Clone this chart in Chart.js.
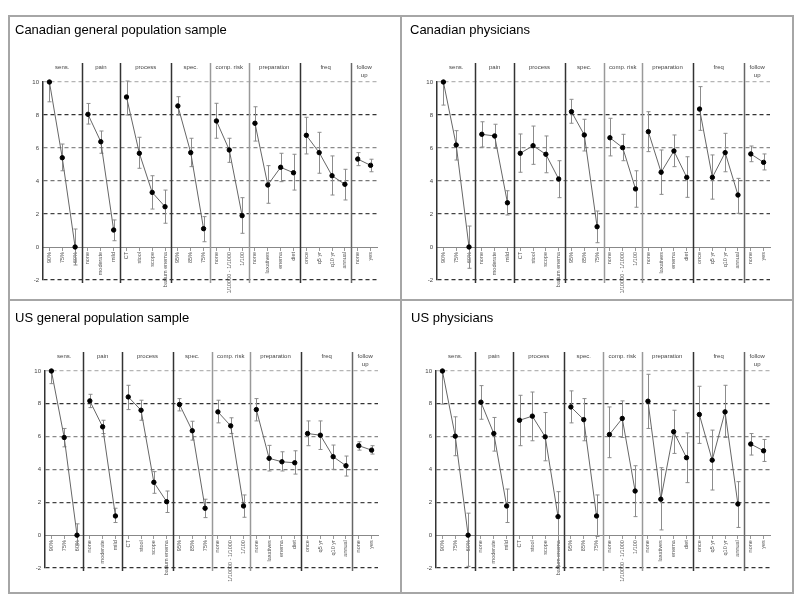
<!DOCTYPE html>
<html>
<head>
<meta charset="utf-8">
<script src="https://cdn.jsdelivr.net/npm/chart.js@4.4.0/dist/chart.umd.min.js"></script>
<style>
  body { margin: 0; background: #fff; }
  #wrap { position: relative; width: 800px; height: 602px; overflow: hidden; }
  #wrap canvas { position: absolute; }
  .rule { position: absolute; background: #a6a6a6; }
</style>
</head>
<body>
<div id="wrap">
  <div class="rule" style="left:8px;top:15px;width:786px;height:2px"></div>
  <div class="rule" style="left:8px;top:592px;width:786px;height:2px"></div>
  <div class="rule" style="left:8px;top:15px;width:2px;height:579px"></div>
  <div class="rule" style="left:792px;top:15px;width:2px;height:579px"></div>
  <div class="rule" style="left:400px;top:15px;width:2px;height:579px"></div>
  <div class="rule" style="left:8px;top:299px;width:786px;height:2px"></div>
</div>

<script>
// attribute levels, in plotting order
const levels = ['90%', '75%', '60%',
  'none', 'moderate', 'mild',
  'CT', 'stool', 'scope', 'barium enema',
  '95%', '85%', '75%',
  'none', '1/10000 - 1/1000', '1/100',
  'none', 'laxatives', 'enema', 'diet',
  'once', 'q5 yr', 'q10 yr', 'annual',
  'none', 'yes'];
const groups = ['sens.', 'pain', 'process', 'spec.', 'comp. risk', 'preparation', 'freq', 'follow\nup'];
const groupSizes = [3, 3, 4, 3, 3, 4, 4, 2];
const yTicks = [-2, 0, 2, 4, 6, 8, 10];

const panelTitles = ['Canadian general population sample', 'Canadian physicians',
  'US general population sample', 'US physicians'];

// utility scores (points) and error bar ends
const canGen   = [10.0, 5.41, 0.0,  8.04, 6.38, 1.03,  9.09, 5.68, 3.31, 2.44,  8.55, 5.72, 1.11,  7.64, 5.88, 1.9,  7.5, 3.76, 4.83, 4.5,  6.77, 5.72, 4.32, 3.8,  5.33, 4.95];
const canGenLo = [8.8, 4.62, -1.09,  7.45, 5.68, 0.38,  8.0, 4.77, 2.3, 1.44,  8.0, 4.87, 0.32,  6.59, 5.13, 0.83,  6.42, 2.65, 3.96, 3.45,  5.64, 4.47, 3.15, 2.85,  4.93, 4.56];
const canGenHi = [10.0, 6.24, 1.09,  8.7, 7.03, 1.64,  10.06, 6.65, 4.32, 3.45,  9.11, 6.59, 1.84,  8.71, 6.59, 2.99,  8.5, 4.93, 5.68, 5.62,  7.86, 6.95, 5.52, 4.71,  5.72, 5.32];

const canPhys   = [10.0, 6.18, 0.0,  6.83, 6.73, 2.68,  5.68, 6.14, 5.62, 4.12,  8.2, 6.79, 1.23,  6.62, 6.02, 3.52,  6.99, 4.53, 5.82, 4.22,  8.36, 4.22, 5.72, 3.15,  5.64, 5.13];
const canPhysLo = [8.6, 5.27, -1.29,  6.06, 5.98, 1.94,  4.53, 5.01, 4.5, 2.99,  7.5, 5.82, 0.26,  5.52, 5.23, 2.41,  5.78, 3.19, 4.87, 3.01,  7.07, 2.9, 4.56, 2.04,  5.17, 4.67];
const canPhysHi = [10.0, 7.05, 1.27,  7.59, 7.44, 3.41,  6.85, 7.33, 6.73, 5.23,  8.95, 7.74, 2.18,  7.8, 6.83, 4.62,  8.2, 5.88, 6.79, 5.47,  9.72, 5.58, 6.89, 4.16,  6.12, 5.64];

const usGen   = [10.0, 5.95, 0.0,  8.18, 6.6, 1.17,  8.42, 7.61, 3.22, 2.04,  7.96, 6.36, 1.64,  7.51, 6.66, 1.78,  7.65, 4.68, 4.47, 4.41,  6.19, 6.09, 4.78, 4.23,  5.45, 5.18];
const usGenLo = [9.23, 5.38, -0.6,  7.77, 6.19, 0.77,  7.65, 7.0, 2.55, 1.38,  7.57, 5.79, 1.07,  6.84, 6.19, 1.09,  6.96, 3.91, 3.91, 3.72,  5.45, 5.22, 4.01, 3.6,  5.18, 4.94];
const usGenHi = [10.0, 6.5, 0.69,  8.58, 7.0, 1.64,  9.13, 8.22, 3.87, 2.69,  8.32, 6.94, 2.19,  8.22, 7.15, 2.45,  8.32, 5.47, 5.08, 5.14,  6.96, 6.96, 5.49, 4.82,  5.69, 5.45];

const usPhys   = [10.0, 6.03, 0.0,  8.1, 6.19, 1.78,  7.0, 7.25, 5.99, 1.13,  7.81, 7.04, 1.17,  6.13, 7.11, 2.69,  8.16, 2.19, 6.3, 4.72,  7.35, 4.57, 7.51, 1.9,  5.55, 5.14];
const usPhysLo = [7.98, 4.84, -1.9,  7.06, 5.12, 0.77,  5.45, 5.75, 4.53, -1.9,  6.84, 5.75, -0.08,  4.72, 5.95, 1.13,  6.5, 0.32, 4.98, 3.2,  5.59, 2.75, 5.95, 0.47,  4.88, 4.49];
const usPhysHi = [10.0, 7.21, 1.34,  9.11, 7.17, 2.81,  8.52, 8.72, 7.47, 2.65,  8.79, 8.32, 2.45,  7.81, 8.18, 4.23,  9.8, 4.11, 7.61, 6.23,  9.07, 6.4, 9.13, 3.26,  6.19, 5.83];

// panel boxes: canvas rect, plot area edges and title anchor (page px)
const boxes = [
  { x: 10,  y: 17,  w: 390, h: 282, L: 43,  T: 82,  R: 377, B: 280, tx: 15,  ty: 30 },
  { x: 402, y: 17,  w: 390, h: 282, L: 437, T: 82,  R: 770, B: 280, tx: 410, ty: 30 },
  { x: 10,  y: 301, w: 390, h: 291, L: 45,  T: 371, R: 378, B: 568, tx: 15,  ty: 318 },
  { x: 402, y: 301, w: 390, h: 291, L: 436, T: 371, R: 770, B: 568, tx: 411, ty: 318 }
];
const sepColors = ['#333', '#333', '#333', '#999', '#999', '#333', '#666'];
const gridColors = { '10': '#b5b5b5', '8': '#333', '6': '#8a8a8a', '4': '#777', '2': '#444', '0': 'rgba(0,0,0,0)', '-2': '#333' };
const FONT = 'Arial, "Liberation Sans", sans-serif';

function makePanel(i, vals, lo, hi) {
  const b = boxes[i];
  const cv = document.createElement('canvas');
  cv.width = b.w; cv.height = b.h;
  cv.style.left = b.x + 'px'; cv.style.top = b.y + 'px';
  document.getElementById('wrap').appendChild(cv);

  const titleH = 13 * 1.2;
  const padTop = b.ty - b.y - titleH / 2;
  const padBottom = b.T - b.y - padTop - titleH;

  const datasets = [];
  let s = 0;
  groupSizes.forEach(n => {
    const d = [];
    for (let k = s; k < s + n; k++) d.push({ x: k, y: vals[k] });
    s += n;
    datasets.push({
      data: d,
      borderColor: '#666',
      borderWidth: 1,
      pointRadius: 2.2,
      pointBackgroundColor: '#000',
      pointBorderColor: '#000',
      clip: false
    });
  });

  const guides = {
    id: 'guides',
    beforeDatasetsDraw(chart) {
      const { ctx, chartArea: a, scales: { x, y } } = chart;
      ctx.save();
      let start = 0;
      groups.forEach((g, gi) => {
        const n = groupSizes[gi];
        const mid = (x.getPixelForValue(start - 0.5) + x.getPixelForValue(start + n - 0.5)) / 2;
        ctx.fillStyle = '#444';
        ctx.font = '6px ' + FONT;
        ctx.textAlign = 'center';
        ctx.textBaseline = 'middle';
        g.split('\n').forEach((t, li) => ctx.fillText(t, mid, a.top - 15 + li * 8));
        if (gi > 0) {
          const px = Math.round(x.getPixelForValue(start - 0.5)) + 0.5;
          ctx.strokeStyle = sepColors[gi - 1];
          ctx.lineWidth = 1.5;
          ctx.beginPath();
          ctx.moveTo(px, a.top - 19);
          ctx.lineTo(px, a.bottom + 3);
          ctx.stroke();
        }
        start += n;
      });
      // error bars
      ctx.strokeStyle = '#8c8c8c';
      ctx.lineWidth = 1;
      lo.forEach((l, k) => {
        const px = Math.round(x.getPixelForValue(k)) + 0.5;
        const y1 = y.getPixelForValue(l), y2 = y.getPixelForValue(hi[k]);
        ctx.beginPath();
        ctx.moveTo(px, y1); ctx.lineTo(px, y2);
        ctx.moveTo(px - 2, y1); ctx.lineTo(px + 2, y1);
        ctx.moveTo(px - 2, y2); ctx.lineTo(px + 2, y2);
        ctx.stroke();
      });
      ctx.restore();
    }
  };

  new Chart(cv, {
    type: 'line',
    data: { datasets },
    plugins: [guides],
    options: {
      responsive: false,
      animation: false,
      devicePixelRatio: 1,
      events: [],
      layout: {
        padding: { left: b.tx - b.x, top: 0, right: b.x + b.w - b.R, bottom: b.y + b.h - b.B }
      },
      plugins: {
        legend: { display: false },
        tooltip: { enabled: false },
        title: {
          display: true,
          text: panelTitles[i],
          align: 'start',
          color: '#000',
          font: { family: FONT, size: 13, weight: 'normal', lineHeight: 1.2 },
          padding: { top: padTop, bottom: padBottom }
        }
      },
      scales: {
        x: {
          type: 'linear',
          min: -0.5,
          max: levels.length - 0.5,
          position: { y: 0 },
          afterBuildTicks: ax => { ax.ticks = levels.map((_, k) => ({ value: k })); },
          ticks: {
            autoSkip: false,
            minRotation: 90,
            maxRotation: 90,
            padding: 2,
            color: '#555',
            font: { family: FONT, size: 5.5 },
            callback: v => levels[Math.round(v)]
          },
          grid: { display: true, drawOnChartArea: false, drawTicks: true, tickLength: 3, color: '#999' },
          border: { display: true, color: '#888', width: 1 }
        },
        y: {
          min: -2,
          max: 10,
          afterBuildTicks: ax => { ax.ticks = yTicks.map(v => ({ value: v })); },
          afterFit: ax => { ax.width = b.L - b.tx; },
          ticks: { padding: 4, color: '#444', font: { family: FONT, size: 6 } },
          grid: {
            drawTicks: false,
            lineWidth: 1.2,
            color: c => gridColors[String(c.tick && c.tick.value)] || '#888'
          },
          border: { display: true, color: '#333', width: 1.5, dash: [4, 3] }
        }
      }
    }
  });
}

makePanel(0, canGen, canGenLo, canGenHi);
makePanel(1, canPhys, canPhysLo, canPhysHi);
makePanel(2, usGen, usGenLo, usGenHi);
makePanel(3, usPhys, usPhysLo, usPhysHi);
</script>
</body>
</html>
